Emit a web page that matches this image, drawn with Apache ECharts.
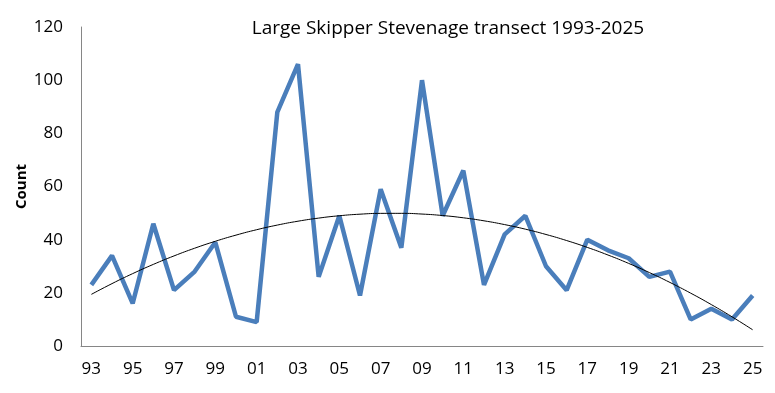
<!DOCTYPE html>
<html><head><meta charset="utf-8">
<script src="https://cdn.jsdelivr.net/npm/echarts@6/dist/echarts.min.js"></script>
<style>html,body{margin:0;padding:0;background:#fff}#c{width:775px;height:393px}</style>
</head><body><div id="c"></div>
<script>
const years = ['93','94','95','96','97','98','99','00','01','02','03','04','05','06','07','08','09','10','11','12','13','14','15','16','17','18','19','20','21','22','23','24','25'];
const counts = [23,34,16,46,21,28,39,11,9,88,106,26,49,19,59,37,100,49,66,23,42,49,30,21,40,36,33,26,28,10,14,10,19];
const yTicks = [0,20,40,60,80,100,120];

// Polynomial (order 2) trend line, least-squares fit of the counts
function polyFit2(ys){
  const n = ys.length; let S=[0,0,0,0,0], T=[0,0,0];
  ys.forEach((y,i)=>{const x=i+1; for(let k=0;k<5;k++)S[k]+=Math.pow(x,k); for(let k=0;k<3;k++)T[k]+=y*Math.pow(x,k);});
  const A=[[S[0],S[1],S[2],T[0]],[S[1],S[2],S[3],T[1]],[S[2],S[3],S[4],T[2]]];
  for(let i=0;i<3;i++){for(let j=i+1;j<3;j++){const f=A[j][i]/A[i][i];for(let k=i;k<4;k++)A[j][k]-=f*A[i][k];}}
  const c=[0,0,0];
  for(let i=2;i>=0;i--){let s=A[i][3];for(let k=i+1;k<3;k++)s-=A[i][k]*c[k];c[i]=s/A[i][i];}
  return ys.map((_,i)=>{const x=i+1;return c[0]+c[1]*x+c[2]*x*x;});
}
const trend = polyFit2(counts);

const font = 'Open Sans, Liberation Sans, sans-serif';
const chart = echarts.init(document.getElementById('c'));
chart.setOption({
  animation:false,
  title:{text:'Large Skipper Stevenage transect 1993-2025',left:443,top:14,textAlign:'center',
    textStyle:{fontFamily:font,fontSize:19,fontWeight:'normal',color:'#000'}},
  grid:{left:81,right:12,top:27,bottom:47},
  xAxis:{type:'category',data:years,boundaryGap:true,
    axisLine:{lineStyle:{color:'#868686',width:1}},axisTick:{show:false},
    axisLabel:{interval:1,fontFamily:font,fontSize:17,color:'#000',margin:15}},
  yAxis:{type:'value',min:0,max:120,interval:20,name:'Count',nameLocation:'middle',nameGap:52,
    nameMoveOverlap:false,
    nameTextStyle:{fontFamily:font,fontSize:15,fontWeight:'bold',color:'#000'},
    axisLine:{show:true,lineStyle:{color:'#868686',width:1}},axisTick:{show:false},splitLine:{show:false},
    axisLabel:{fontFamily:font,fontSize:17,color:'#000',margin:18,
      formatter:v=>yTicks.includes(v)?String(v):''}},
  series:[
    {type:'line',data:counts,symbol:'none',lineStyle:{color:'#4a7ebb',width:4.5},z:2},
    {type:'line',data:trend,symbol:'none',smooth:true,lineStyle:{color:'#000',width:1},z:3}
  ]
});
</script></body></html>
